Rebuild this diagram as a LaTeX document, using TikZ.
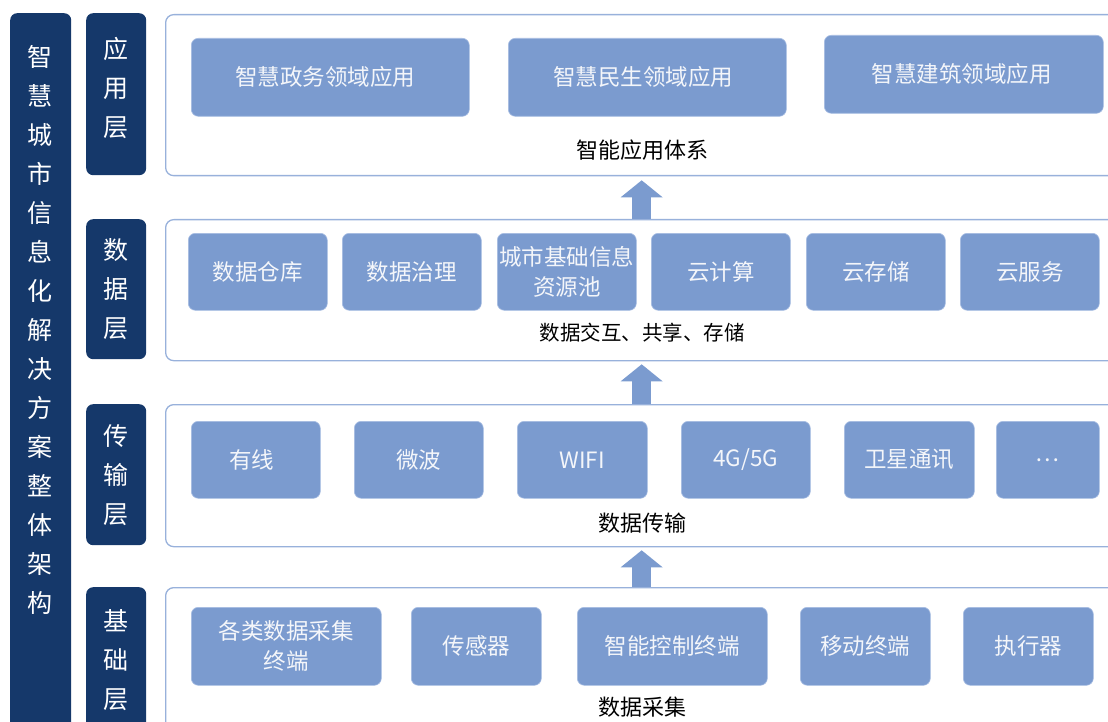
\documentclass[tikz,border=0pt]{standalone}
\usepackage{fontspec}
\setmainfont{Noto Sans CJK SC}
\usetikzlibrary{arrows.meta}
\definecolor{navy}{HTML}{15386A}
\definecolor{boxfill}{HTML}{7B9BCF}
\definecolor{boxedge}{HTML}{A8BEE3}
\definecolor{frameedge}{HTML}{98B1DB}
\definecolor{boxtext}{HTML}{F4F6FA}
\begin{document}
\begin{tikzpicture}[x=1pt,y=-1pt,
  navybox/.style={fill=navy, rounded corners=7pt, inner sep=0pt, anchor=north west},
  vtext/.style={text=white, font=\fontsize{25}{39}\selectfont, align=center, inner sep=0pt},
  frame/.style={draw=frameedge, line width=1.3pt, fill=white, rounded corners=8pt, inner sep=0pt, anchor=north west},
  item/.style={fill=boxfill, draw=boxedge, line width=0.6pt, rounded corners=7pt, inner sep=0pt, anchor=north west, text=boxtext, font=\fontsize{22.5}{30}\selectfont, align=center},
  caption/.style={font=\fontsize{22}{26}\selectfont, text=black, inner sep=0pt},
  blockarrow/.style={draw=boxfill, line width=19pt, -{Triangle[width=41pt,length=17pt]}}
]
\useasboundingbox (0,0) rectangle (1108,722);
\clip (0,0) rectangle (1108,722);

% left bar
\node[navybox, minimum width=61pt, minimum height=740pt] (leftbar) at (10,13) {};
\node[vtext] (lefttxt) at (40,330) {智\\慧\\城\\市\\信\\息\\化\\解\\决\\方\\案\\整\\体\\架\\构};

% layer labels
\node[navybox, minimum width=60pt, minimum height=162pt] (lapp) at (86,13) {};
\node[vtext] (lapptxt) at (116,88) {应\\用\\层};
\node[navybox, minimum width=60pt, minimum height=140pt] (ldata) at (86,219) {};
\node[vtext] (ldatatxt) at (116,289) {数\\据\\层};
\node[navybox, minimum width=60pt, minimum height=141pt] (ltrans) at (86,404) {};
\node[vtext] (ltranstxt) at (116,475) {传\\输\\层};
\node[navybox, minimum width=60pt, minimum height=160pt] (lbase) at (86,587) {};
\node[vtext] (lbasetxt) at (116,660) {基\\础\\层};

% frames
\node[frame, minimum width=951pt, minimum height=161pt] (fapp) at (165,14) {};
\node[frame, minimum width=951pt, minimum height=141pt] (fdata) at (165,219) {};
\node[frame, minimum width=951pt, minimum height=142pt] (ftrans) at (165,404) {};
\node[frame, minimum width=951pt, minimum height=160pt] (fbase) at (165,587) {};

% application layer
\node[item, minimum width=278pt, minimum height=78pt] (a1) at (191,38) {智慧政务领域应用\hspace*{10pt}};
\node[item, minimum width=278pt, minimum height=78pt] (a2) at (508,38) {智慧民生领域应用\hspace*{8pt}};
\node[item, minimum width=279pt, minimum height=78pt] (a3) at (824,35) {智慧建筑领域应用\hspace*{4pt}};
\node[caption] (capp) at (642,150) {智能应用体系};

% data layer
\node[item, minimum width=139pt, minimum height=77pt] (d1) at (188,233) {数据仓库};
\node[item, minimum width=139pt, minimum height=77pt] (d2) at (342,233) {数据治理};
\node[item, minimum width=139pt, minimum height=77pt] (d3) at (497,233) {城市基础信息\\资源池};
\node[item, minimum width=139pt, minimum height=77pt] (d4) at (651,233) {云计算};
\node[item, minimum width=139pt, minimum height=77pt] (d5) at (806,233) {云存储};
\node[item, minimum width=139pt, minimum height=77pt] (d6) at (960,233) {云服务};
\node[caption, font=\fontsize{20.5}{24}\selectfont] (cdata) at (642,333) {数据交互、共享、存储};

% transport layer
\node[item, minimum width=129pt, minimum height=77pt] (t1) at (191,421) {有线\hspace*{8pt}};
\node[item, minimum width=129pt, minimum height=77pt] (t2) at (354,421) {微波};
\node[item, minimum width=130pt, minimum height=77pt] (t3) at (517,421) {WIFI};
\node[item, minimum width=129pt, minimum height=77pt] (t4) at (681,421) {4G/5G};
\node[item, minimum width=130pt, minimum height=77pt] (t5) at (844,421) {卫星通讯};
\node[item, minimum width=103pt, minimum height=77pt] (t6) at (996,421) {…};
\node[caption] (ctrans) at (642,523) {数据传输};

% base layer
\node[item, minimum width=190pt, minimum height=78pt] (b1) at (191,607) {各类数据采集\\终端};
\node[item, minimum width=130pt, minimum height=78pt] (b2) at (411,607) {传感器};
\node[item, minimum width=190pt, minimum height=78pt] (b3) at (577,607) {智能控制终端};
\node[item, minimum width=130pt, minimum height=78pt] (b4) at (800,607) {移动终端};
\node[item, minimum width=130pt, minimum height=78pt] (b5) at (963,607) {执行器};
\node[caption] (cbase) at (642,707) {数据采集};

% block arrows
\draw[blockarrow] ([xshift=0.5pt]fdata.north) -- ([xshift=0.5pt,yshift=-4pt]fapp.south);
\draw[blockarrow] ([xshift=0.5pt]ftrans.north) -- ([xshift=0.5pt,yshift=-3pt]fdata.south);
\draw[blockarrow] ([xshift=0.5pt]fbase.north) -- ([xshift=0.5pt,yshift=-3pt]ftrans.south);
\end{tikzpicture}
\end{document}
